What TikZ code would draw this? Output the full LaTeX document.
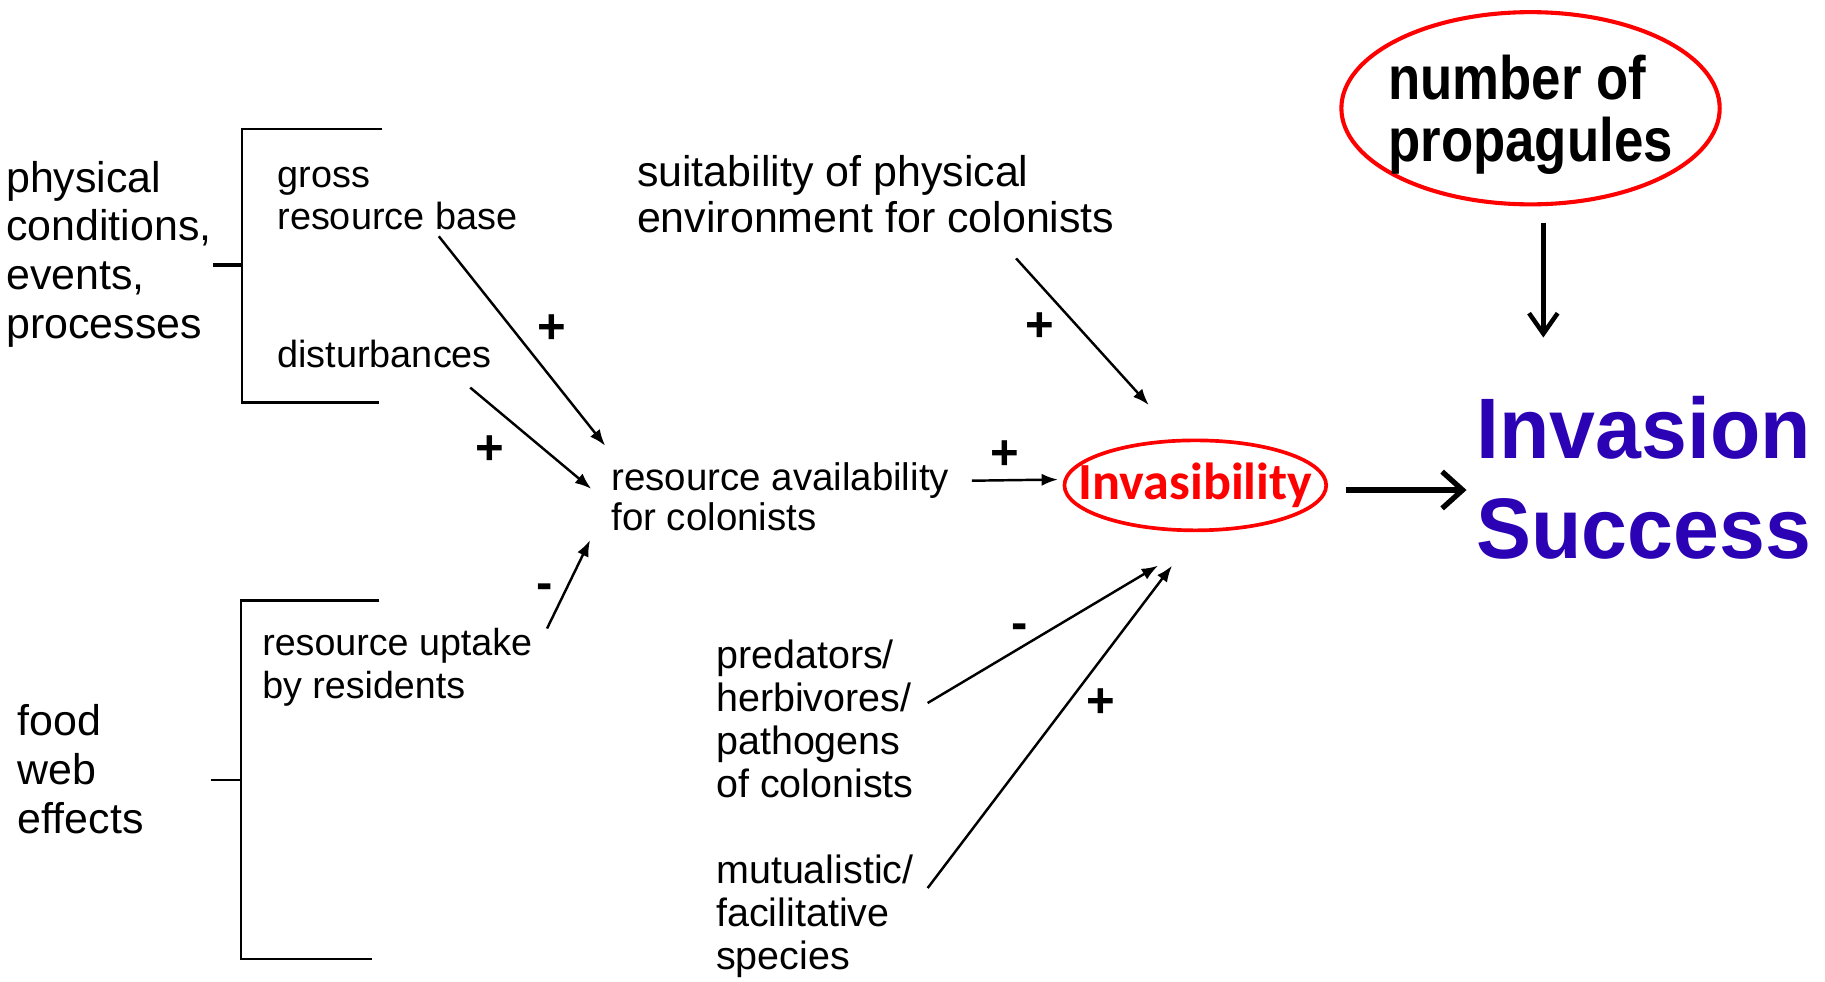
\documentclass[tikz,border=0pt]{standalone}
\usepackage{fontspec}
\setmainfont{Liberation Sans}
\newfontfamily\narrowfont[FakeStretch=0.86]{Liberation Sans}
\newfontfamily\headfont[FakeStretch=0.96]{Liberation Sans}
\newfontfamily\calfont{Carlito}
\usetikzlibrary{positioning, calc, arrows.meta, shapes}
\definecolor{invblue}{HTML}{2B03B5}
\definecolor{invred}{HTML}{FF0000}
\tikzset{
every node/.style = {inner sep = 0pt, align = left},
factor/.style = {anchor = base west, font = \fontsize{21}{23.9}\selectfont},
driver/.style = {anchor = base west, font = \fontsize{18.5}{20.5}\selectfont},
sign/.style = {font = \bfseries\fontsize{24}{24}\selectfont},
effect/.style = {-{Latex[length = 8pt, width = 6pt]}, line width = 1.2pt},
bigeffect/.style = {-{Straight Barb[length = 10pt, width = 18pt]}, line width = 2.6pt},
supply/.style = {-{Straight Barb[length = 10pt, width = 14pt]}, line width = 2.2pt},
bracket/.style = {line width = 1.2pt},
outcome/.style = {ellipse, draw = invred, line width = 1.8pt}
}

\begin{document}
\begin{tikzpicture}[x = 0.02cm, y = -0.02cm]

\useasboundingbox (0, 0) rectangle (1568, 843);

%% Factors
\node at (5, 291) [factor] (phys) {physical\\conditions,\\events,\\processes};
\node at (15, 716) [factor] (food) {food\\web\\effects};

% Brackets
\draw [bracket] (328, 111) -| (208, 346) -- (326, 346);
\draw [line width = 2pt] (183, 228) -- (208, 228);
\draw [bracket] (326, 516) -| (207, 824) -- (320, 824);
\draw [bracket] (181, 670) -- (207, 670);

%% Drivers
\node at (238, 197.5) [driver] (gross) {gross\\resource base};
\node at (238, 315.5) [driver] (disturb) {disturbances};
\node at (225, 600.5) [driver, font = \fontsize{18.4}{21}\selectfont] (uptake) {resource uptake\\by residents};
\node at (525, 455.5) [driver, font = \fontsize{18.8}{19.3}\selectfont] (resavail) {resource availability\\for colonists};
\node at (547, 199.6) [driver, font = \fontsize{21}{22.2}\selectfont] (suit) {suitability of physical\\environment for colonists};
\node at (615, 685) [driver, font = \fontsize{19.3}{21}\selectfont] (pred) {predators/\\herbivores/\\pathogens\\of colonists};
\node at (615, 833) [driver, font = \fontsize{19.3}{21}\selectfont] (mutual) {mutualistic/\\facilitative\\species};

%% Outcomes
\node at (1027, 417) [outcome, inner xsep = -13pt, inner ysep = 3pt, minimum width = 128pt, minimum height = 44pt, text = invred, font = \calfont\bfseries\fontsize{25.5}{25.5}\selectfont] (invas) {Invasibility};
\node at (1315, 93) [outcome, line width = 2pt, inner xsep = -5pt, inner ysep = 2pt, text depth = 0pt, minimum width = 185pt, minimum height = 94pt, font = \narrowfont\bfseries\fontsize{30}{30.7}\selectfont] (prop) {number of\\propagules};
\node at (1268, 480) [anchor = base west, text = invblue, font = \headfont\bfseries\fontsize{42}{49}\selectfont] (succ) {Invasion\\Success};

%% Effects
\path [effect] ($(gross.base west)+(139, 5.5)$) edge ($(resavail.base west)+(-5, -72.5)$);
\path [effect] ($(disturb.base west)+(166, 17.5)$) edge ($(resavail.base west)+(-17, -35.5)$);
\path [effect] ($(uptake.base west)+(245, -60.5)$) edge ($(resavail.base west)+(-18, 8.5)$);
\path [effect] ($(suit.base west)+(326, 22.4)$) edge ($(invas.center)+(-40, -69)$);
\path [effect] ($(resavail.base west)+(310, -42.5)$) edge ($(invas.west)+(-4, -5)$);
\path [effect] ($(pred.base west)+(182, -81)$) edge ($(invas.center)+(-32, 69)$);
\path [effect] ($(mutual.base west)+(182, -70)$) edge ($(invas.center)+(-20, 69)$);
\draw [bigeffect] ($(invas.east)+(15, 4)$) -- ($(succ.base west)+(-8, -59)$);
\draw [supply] ($(prop.south)+(11, 14)$) -- ($(succ.base west)+(58, -190)$);

% Signs
\node at (474, 283) [sign] (pgross) {+};
\node at (421, 387) [sign] (pdist) {+};
\node at (468, 508) [sign] (mup) {-};
\node at (893, 281) [sign] (psuit) {+};
\node at (863, 391) [sign] (pavail) {+};
\node at (876, 543) [sign] (mpred) {-};
\node at (946, 604) [sign] (pmutual) {+};

\end{tikzpicture}
\end{document}
